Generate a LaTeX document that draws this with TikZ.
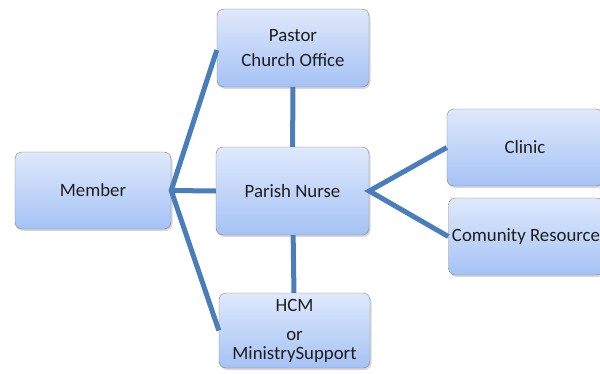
\documentclass[tikz,border=0pt]{standalone}
\usepackage{fontspec}
\setmainfont{Carlito}
\usetikzlibrary{shadows}

\definecolor{linkblue}{RGB}{74,126,187}
\definecolor{boxtop}{RGB}{223,233,251}
\definecolor{boxbot}{RGB}{165,194,245}
\definecolor{boxedge}{RGB}{128,128,128}
\definecolor{boxtext}{RGB}{30,30,30}

\tikzset{
	box/.style = {draw = boxedge, thin, rounded corners = 7pt,
		top color = boxtop, bottom color = boxbot,
		drop shadow = {opacity = .3, shadow xshift = 1.5pt, shadow yshift = -2pt},
		align = center, inner sep = 1pt, text = boxtext,
		font = \fontsize{18.8}{26}\selectfont},
	link/.style = {draw = linkblue, line width = 5pt}
}

\begin{document}
\begin{tikzpicture}[x = 1pt, y = -1pt]
		\useasboundingbox (0,0) rectangle (600,373);
		
		\node (Member) at (93,190.5) [box, minimum width = 156pt, minimum height = 77pt] {Member};
		\node (Pastor) at (293,48) [box, minimum width = 152pt, minimum height = 78pt] {Pastor\\[-1pt]Church Office};
		\node (Nurse) at (292.5,191) [box, minimum width = 153pt, minimum height = 88pt] {Parish Nurse};
		\node (HCM) at (294.5,330.5) [box, minimum width = 151pt, minimum height = 75pt] {HCM\\[3pt]or\\[-7pt]MinistrySupport};
		
		\node (Clinic) at (525,147.5) [box, minimum width = 156pt, minimum height = 77pt] {Clinic};
		\node (Resource) at (526,236.5) [box, minimum width = 155pt, minimum height = 77pt] {Comunity Resource};
		
		\draw [link] (Pastor.west |- 0,50) -- (Member.east) -- (HCM.west);
		\draw [link] (Member.east) -- (Nurse.west);
		\draw [link] (Pastor) -- (Nurse) -- (HCM);
		\draw [link] (Clinic.west) -- (Nurse.east) -- (Resource.west);
		\end{tikzpicture}
\end{document}
